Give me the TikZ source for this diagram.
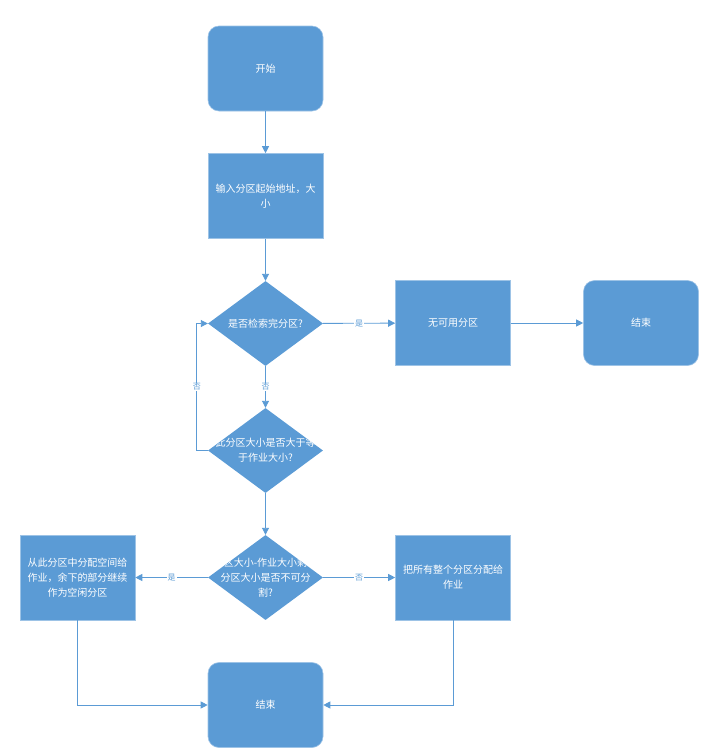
\documentclass[tikz,border=0pt]{standalone}
\usepackage{fontspec}
\setmainfont{Noto Sans CJK SC}
\usetikzlibrary{shapes.geometric,arrows.meta}
\definecolor{fillblue}{HTML}{5B9BD5}
\definecolor{edgeblue}{HTML}{9DC3E6}
\begin{document}
\begin{tikzpicture}[x=1pt,y=-1pt,
  box/.style={rectangle, fill=fillblue, draw=edgeblue, line width=0.6pt,
    minimum width=115pt, minimum height=85pt, inner sep=0pt,
    text=white, font=\fontsize{10}{15}\selectfont, align=center},
  rbox/.style={box, rounded corners=11pt},
  dec/.style={diamond, fill=fillblue, minimum width=115pt, minimum height=85pt,
    inner sep=0pt, aspect=1.35,
    path picture={\node[text=white, font=\fontsize{10}{15}\selectfont, align=center]
      at (path picture bounding box.center) {#1};}},
  conn/.style={draw=fillblue, line width=0.9pt, -{Triangle[length=7pt,width=7pt]}},
  lab/.style={fill=white, text=fillblue, font=\fontsize{8}{9}\selectfont, inner sep=1pt}
]
\useasboundingbox (0,0) rectangle (722,756);

\node[rbox] (start) at (265.5,68.5) {开始};
\node[box] (input) at (265.5,196) {输入分区起始地址，大\\小};
\node[dec={是否检索完分区?}] (d1) at (265.5,323.5) {};
\node[box] (nopart) at (453,323) {无可用分区};
\node[rbox] (end1) at (641,323) {结束};
\node[dec={此分区大小是否大于等\\于作业大小?}] (d2) at (265.5,450.5) {};
\node[dec={分区大小-作业大小剩余\\分区大小是否不可分\\割?}] (d3) at (265.5,577.5) {};
\node[box] (leftbox) at (77.5,577.5) {从此分区中分配空间给\\作业，余下的部分继续\\作为空闲分区};
\node[box] (rightbox) at (453,577.5) {把所有整个分区分配给\\作业};
\node[rbox] (end2) at (265.5,705) {结束};

\draw[conn] (start) -- (input);
\draw[conn] (input) -- (d1);
\draw[conn] (d1) -- node[lab]{是} (nopart);
\draw[conn] (nopart) -- (end1);
\draw[conn] (d1) -- node[lab]{否} (d2);
\draw[conn] (d2.west) -- ++(-11,0) |- node[lab,pos=0.25]{否} (d1.west);
\draw[conn] (d2) -- (d3);
\draw[conn] (d3) -- node[lab]{是} (leftbox);
\draw[conn] (d3) -- node[lab]{否} (rightbox);
\draw[conn] (leftbox.south) |- (end2.west);
\draw[conn] (rightbox.south) |- (end2.east);
\end{tikzpicture}
\end{document}
